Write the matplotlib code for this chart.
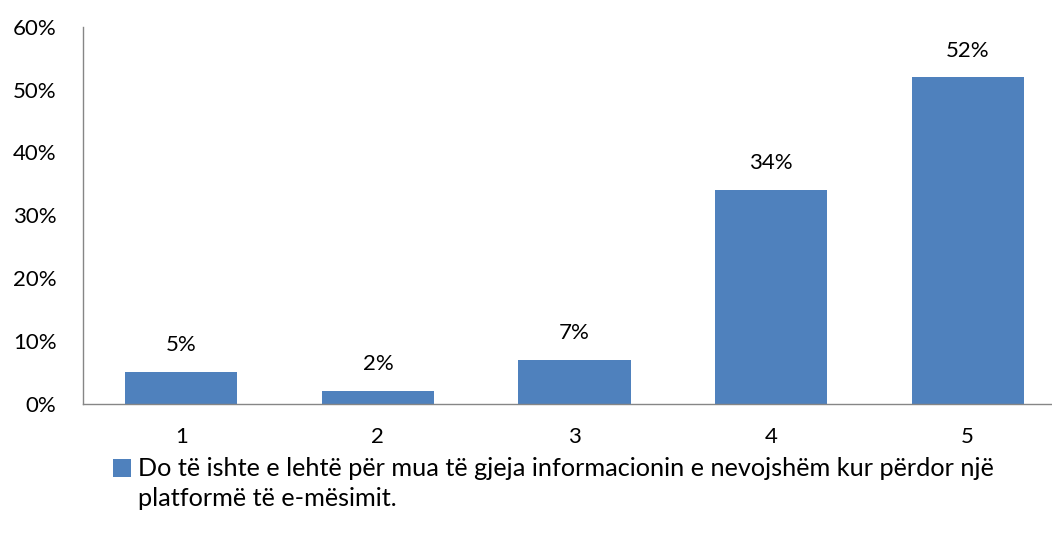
import matplotlib
matplotlib.use("Agg")
import matplotlib.pyplot as plt
from matplotlib.patches import Patch

categories = ["1", "2", "3", "4", "5"]
values = [5, 2, 7, 34, 52]
labels = ["5%", "2%", "7%", "34%", "52%"]
yticks = [0, 10, 20, 30, 40, 50, 60]
ytick_labels = ["0%", "10%", "20%", "30%", "40%", "50%", "60%"]
legend_line1 = "Do të ishte e lehtë për mua të gjeja informacionin e nevojshëm kur përdor një"
legend_line2 = "platformë të e-mësimit."

plt.rcParams['font.family'] = ['Lato', 'DejaVu Sans']
FS = 16
LFS = 18.2
BAR = '#4F81BD'
AX = '#868686'

fig = plt.figure(figsize=(10.52, 5.39), dpi=100)
ax = fig.add_axes([83/1052, 135.5/539, 983/1052, 376.5/539])
x = list(range(len(categories)))
bars = ax.bar(x, values, width=0.57, color=BAR, zorder=2)
ax.bar_label(bars, labels=labels, padding=12, fontsize=FS, color='black')
ax.set_xlim(-0.5, 4.5)
ax.set_ylim(0, 60)
ax.set_xticks(x)
ax.set_xticklabels(categories)
ax.set_yticks(yticks)
ax.set_yticklabels(ytick_labels)
ax.tick_params(axis='both', length=0, labelsize=FS, colors='black')
ax.tick_params(axis='x', pad=17)
ax.tick_params(axis='y', pad=19)
for s in ['top', 'right']:
    ax.spines[s].set_visible(False)
for s in ['left', 'bottom']:
    ax.spines[s].set_color(AX)
    ax.spines[s].set_linewidth(1.0)

leg = fig.legend(handles=[Patch(facecolor=BAR, edgecolor='none', label=legend_line1)],
                 loc='center left', bbox_to_anchor=(113/1052, 1 - 469/539),
                 frameon=False, fontsize=LFS, handlelength=0.7, handleheight=0.7,
                 handletextpad=0.3, borderpad=0, borderaxespad=0)
fig.canvas.draw()
t = leg.get_texts()[0]
bb = t.get_window_extent()
fig.text(bb.x0 / fig.bbox.width, 1 - 498/539, legend_line2, fontsize=LFS,
         va='center', ha='left')

fig.savefig("out.png", dpi=100)
